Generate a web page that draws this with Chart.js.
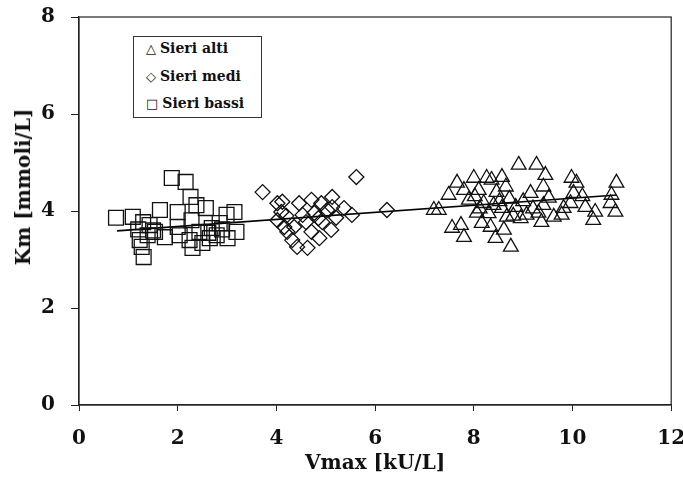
<!DOCTYPE html>
<html>
<head>
<meta charset="utf-8">
<script src="https://cdn.jsdelivr.net/npm/chart.js@4.4.1/dist/chart.umd.min.js"></script>
<style>
  body { margin: 0; background: #fff; }
  #wrap { position: relative; width: 683px; height: 482px; }
  #legend {
    position: absolute; left: 133px; top: 36px; width: 127px; height: 80px;
    border: 1px solid #333; background: #fff;
    font-family: "DejaVu Serif", serif; font-weight: bold; font-size: 14px; color: #111;
  }
  #legend div { position: absolute; left: 12px; white-space: nowrap; }
  #legend span { font-family: "DejaVu Sans", sans-serif; font-weight: normal; font-size: 13px; margin-right: 4px; }
  #ytitle {
    position: absolute; left: 23px; top: 187px; transform: translate(-50%, -50%) rotate(-90deg);
    font-family: "DejaVu Serif", serif; font-weight: bold; font-size: 20px; color: #111; white-space: nowrap;
  }
</style>
</head>
<body>
<div id="wrap">
  <canvas id="myChart" width="683" height="482"></canvas>
  <div id="ytitle">Km [mmoli/L]</div>
  <div id="legend">
    <div style="top:3px"><span>△</span>Sieri alti</div>
    <div style="top:31px"><span>◇</span>Sieri medi</div>
    <div style="top:58px"><span>□</span>Sieri bassi</div>
  </div>
</div>
<script>
// values: Vmax [kU/L] and Km [mmoli/L]
var bassiX = [0.75, 1.09, 1.30, 1.23, 1.27, 1.31, 1.43, 1.64, 1.54, 1.74, 1.88, 2.16, 2.26, 2.00, 2.00, 2.04, 2.38,
              2.57, 2.28, 2.24, 2.30, 2.44, 2.50, 2.69, 2.65, 2.85, 2.99, 3.15, 3.01, 3.19, 2.79, 1.39, 1.50,
              2.62, 2.90, 1.20];
var bassiY = [3.86, 3.88, 3.77, 3.40, 3.26, 3.05, 3.71, 4.02, 3.57, 3.46, 4.68, 4.60, 4.29, 3.98, 3.67, 3.50, 4.12,
              4.06, 3.81, 3.40, 3.24, 3.57, 3.34, 3.65, 3.44, 3.75, 3.92, 3.98, 3.44, 3.57, 3.50, 3.50, 3.60,
              3.55, 3.62, 3.62];

var mediX = [3.72, 5.62, 6.24, 4.02, 4.12, 4.10, 4.02, 4.16, 4.22, 4.32, 4.42, 4.63, 4.46, 4.71, 4.53, 4.77, 4.91,
             5.13, 5.03, 4.93, 4.87, 5.11, 5.21, 5.37, 5.53, 4.60, 4.36, 4.71, 5.13, 4.20, 4.85];
var mediY = [4.39, 4.70, 4.02, 4.16, 4.19, 3.98, 3.81, 3.67, 3.57, 3.40, 3.26, 3.24, 4.16, 4.23, 3.92, 3.96, 4.16,
             4.29, 4.02, 3.77, 3.44, 3.61, 3.86, 4.06, 3.92, 3.77, 3.67, 3.57, 4.08, 3.90, 3.85];

var altiX = [7.19, 7.29, 7.56, 7.74, 7.80, 7.49, 7.66, 7.80, 8.00, 7.90, 8.10, 8.26, 8.36, 8.57, 8.65, 8.46, 8.20,
             8.06, 8.40, 8.16, 8.34, 8.44, 8.67, 8.61, 8.75, 8.91, 8.85, 8.57, 9.27, 9.45, 9.41, 9.15, 9.52, 9.41,
             9.31, 9.37, 9.07, 9.98, 10.08, 10.02, 9.96, 9.82, 10.26, 9.78, 10.46, 10.42, 10.89, 10.79, 10.77, 10.87, 9.62,
             8.12, 8.30, 8.52, 8.72, 8.02, 8.80, 9.00, 9.20, 8.95, 10.20];
var altiY = [4.02, 4.02, 3.65, 3.71, 3.46, 4.33, 4.58, 4.43, 4.68, 4.23, 4.43, 4.68, 4.64, 4.70, 4.50, 4.39, 4.16,
             3.96, 4.12, 3.75, 3.67, 3.44, 3.88, 3.61, 3.26, 4.95, 4.08, 4.06, 4.95, 4.74, 4.50, 4.37, 4.27, 4.12,
             3.96, 3.77, 3.92, 4.68, 4.58, 4.37, 4.16, 4.06, 4.08, 3.92, 3.98, 3.81, 4.58, 4.33, 4.16, 3.98, 3.88,
             4.05, 3.95, 4.20, 4.25, 4.30, 3.90, 4.20, 4.05, 3.85, 4.30];

// regression line end points
var trendX = [0.77, 10.9];
var trendY = [3.59, 4.33];

var xTicks = [0, 2, 4, 6, 8, 10, 12];
var yTicks = [0, 2, 4, 6, 8];

function pts(xs, ys) {
  return xs.map(function (x, i) { return { x: x, y: ys[i] }; });
}

// frame round the plot area
var frame = {
  id: 'frame',
  afterDraw: function (chart) {
    var a = chart.chartArea, c = chart.ctx;
    c.save();
    c.strokeStyle = '#222';
    c.lineWidth = 1.2;
    c.strokeRect(a.left, a.top, a.right - a.left, a.bottom - a.top);
    c.restore();
  }
};

var tickFont = { family: 'DejaVu Serif', weight: 'bold', size: 20 };
var titleFont = { family: 'DejaVu Serif', weight: 'bold', size: 20 };
var mark = { borderColor: '#111', backgroundColor: 'rgba(0,0,0,0)', borderWidth: 1.3 };

var ctx = document.getElementById('myChart').getContext('2d');
var chart = new Chart(ctx, {
  type: 'scatter',
  data: {
    datasets: [
      Object.assign({ label: 'Sieri alti', data: pts(altiX, altiY), pointStyle: 'triangle', pointRadius: 8.5 }, mark),
      Object.assign({ label: 'Sieri medi', data: pts(mediX, mediY), pointStyle: 'rectRot', pointRadius: 7.5 }, mark),
      Object.assign({ label: 'Sieri bassi', data: pts(bassiX, bassiY), pointStyle: 'rect', pointRadius: 10.5 }, mark),
      {
        label: 'trend', data: pts(trendX, trendY), showLine: true, pointRadius: 0,
        borderColor: '#000', borderWidth: 1.6
      }
    ]
  },
  options: {
    responsive: false,
    animation: false,
    layout: { padding: { top: 17, right: 11, left: 0, bottom: 0 } },
    plugins: { legend: { display: false }, tooltip: { enabled: false } },
    scales: {
      x: {
        min: 0, max: 12,
        afterBuildTicks: function (s) { s.ticks = xTicks.map(function (v) { return { value: v }; }); },
        afterFit: function (s) { s.height = 77; s.paddingLeft = 0; s.paddingRight = 0; },
        grid: { drawOnChartArea: false, color: '#222', tickLength: 6 },
        border: { color: '#222', width: 1.2 },
        ticks: { color: '#111', font: tickFont, padding: 16, maxRotation: 0 },
        title: { display: true, text: 'Vmax [kU/L]', color: '#111', font: titleFont, padding: { top: 0, bottom: 6 } }
      },
      y: {
        min: 0, max: 8,
        afterBuildTicks: function (s) { s.ticks = yTicks.map(function (v) { return { value: v }; }); },
        afterFit: function (s) { s.width = 79; s.paddingTop = 0; s.paddingBottom = 0; },
        grid: { drawOnChartArea: false, color: '#222', tickLength: 8 },
        border: { color: '#222', width: 1.2 },
        ticks: { color: '#111', font: tickFont, padding: 16 }
      }
    }
  },
  plugins: [frame]
});
</script>
</body>
</html>
